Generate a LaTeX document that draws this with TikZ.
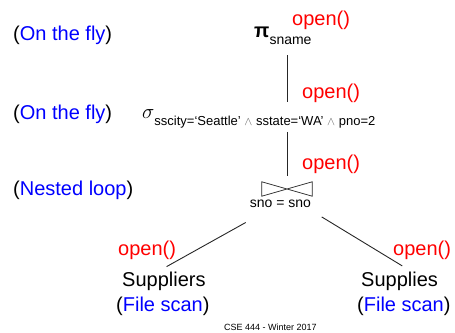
\documentclass[tikz,border=0pt]{standalone}
\usepackage{fontspec}
\setmainfont{Liberation Sans}
\usepackage{xcolor}
\usepackage{tikz}
\usetikzlibrary{positioning}
\definecolor{scanblue}{RGB}{0,0,255}
\definecolor{openred}{RGB}{255,0,0}
\tikzstyle{opencall} = [anchor=base west, inner sep=0pt, text=openred, font=\fontsize{20}{24}\selectfont]
\tikzstyle{algo} = [anchor=base west, inner sep=0pt, font=\fontsize{20}{24}\selectfont]
\tikzstyle{relation} = [anchor=base west, inner sep=0pt, font=\fontsize{20}{24}\selectfont]
\tikzstyle{edge} = [line width=0.9pt, black!85]
\newcommand{\algname}[1]{(\textcolor{scanblue}{#1})}
\newcommand{\subtxt}[2]{\raisebox{-7pt}{\fontsize{#1}{16}\selectfont #2}}

\begin{document}
\begin{tikzpicture}[x=1pt, y=-1pt]

        \useasboundingbox (0,0) rectangle (455,332);

        % Operadores del plan
        \node (proj) [algo] at (254,37) {\textbf{π}\subtxt{14}{sname}};
        \node (sel) [algo] at (142,118) {\fontsize{22}{24}\selectfont$\sigma$\subtxt{13}{sscity=‘Seattle’ {\color{black!60}$\wedge$} sstate=‘WA’ {\color{black!60}$\wedge$} pno=2}};
        \node (join) [minimum width=50pt, minimum height=14pt, inner sep=0pt] at (287,189) {};
        \draw [edge, line width=0.7pt] (join.north west) -- (join.south east) -- (join.north east) -- (join.south west) -- cycle;
        \node (cond) [anchor=base, inner sep=0pt, font=\fontsize{14}{16}\selectfont] at (280.4,207) {sno = sno};
        \node (suppliers) [relation] at (122,286) {Suppliers};
        \node (supplies) [relation] at (361,286) {Supplies};

        % Algoritmos
        \node (alg1) [algo] at (13,40) {\algname{On the fly}};
        \node (alg2) [algo] at (13,119) {\algname{On the fly}};
        \node (alg3) [algo] at (13,195) {\algname{Nested loop}};
        \node (alg4) [algo] at (116,311) {\algname{File scan}};
        \node (alg5) [algo] at (357,311) {\algname{File scan}};

        % Llamadas open()
        \node (open1) [opencall] at (292,25) {open()};
        \node (open2) [opencall] at (302,98) {open()};
        \node (open3) [opencall] at (302,169) {open()};
        \node (open4) [opencall] at (118,255) {open()};
        \node (open5) [opencall] at (393,255) {open()};

        \node (footer) [anchor=base west, inner sep=0pt, font=\fontsize{9}{10}\selectfont] at (224,330) {CSE 444 - Winter 2017};

        % Conexiones
        \draw [edge, shorten <=11pt, shorten >=7pt] (join.north |- proj.south) -- (join.north |- sel.north);
        \draw [edge, shorten <=4pt, shorten >=6pt] (join.north |- sel.south) -- (join.north);
        \draw [edge] ([xshift=-41.3pt,yshift=-26.3pt]join.south) -- ([xshift=2.7pt,yshift=4.7pt]suppliers.north);
        \draw [edge] ([xshift=34.7pt,yshift=-20.7pt]join.south) -- ([xshift=2.7pt,yshift=5.4pt]supplies.north);

\end{tikzpicture}
\end{document}
